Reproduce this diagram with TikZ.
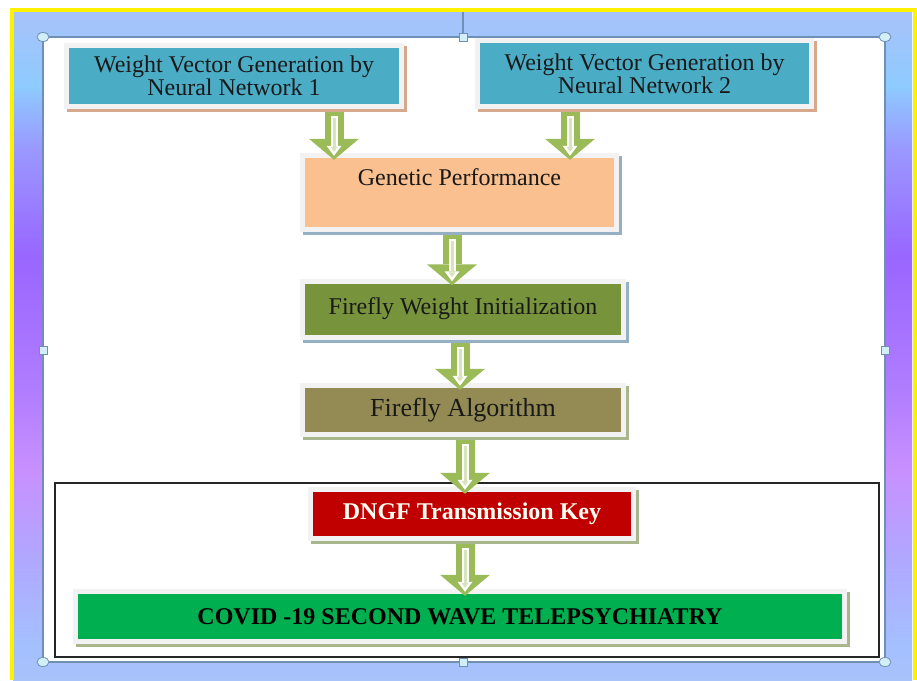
\documentclass[tikz,border=0pt]{standalone}
\usepackage{fontspec}
\setmainfont{Liberation Serif}
\usetikzlibrary{arrows.meta,shadows,calc}

\definecolor{nnblue}{HTML}{4BACC6}
\definecolor{genpeach}{HTML}{FAC090}
\definecolor{fwgreen}{HTML}{77933C}
\definecolor{faolive}{HTML}{948A54}
\definecolor{keyred}{HTML}{C00000}
\definecolor{covidgreen}{HTML}{00B050}
\definecolor{arrowgreen}{HTML}{9BBB59}
\definecolor{arrowlight}{HTML}{D7E4BD}
\definecolor{framegray}{HTML}{F2F2F2}
\definecolor{shtan}{HTML}{D6A88C}
\definecolor{shblue}{HTML}{95AFC3}
\definecolor{shgreen}{HTML}{A9B58C}
\definecolor{selblue}{HTML}{6F8FB5}
\definecolor{handlefill}{HTML}{D2EEF8}
\definecolor{bgA}{HTML}{A8C2FA}
\definecolor{bgB}{HTML}{8ECBFF}
\definecolor{bgC}{HTML}{9A98FF}
\definecolor{bgD}{HTML}{9966FF}
\definecolor{bgE}{HTML}{B07CFF}
\definecolor{bgF}{HTML}{C890FF}
\definecolor{bgG}{HTML}{B0A8FF}
\definecolor{bgH}{HTML}{A4C0FF}

\pgfdeclareverticalshading{pagebg}{100bp}{color(0bp)=(bgA); color(25bp)=(bgA);
  color(27.7bp)=(bgH); color(34bp)=(bgG); color(40.6bp)=(bgF); color(47bp)=(bgE);
  color(56.7bp)=(bgD); color(64.7bp)=(bgC); color(69.5bp)=(bgB); color(75bp)=(bgA);
  color(100bp)=(bgA)}

\begin{document}
\begin{tikzpicture}[x=1pt, y=-1pt,
    stage/.style 2 args={rectangle, inner sep=0pt, fill=framegray, text=black!90,
      path picture={\fill[#1] ($(path picture bounding box.south west)+(5pt,5pt)$)
        rectangle ($(path picture bounding box.north east)+(-5pt,-5pt)$);},
      drop shadow={shadow xshift=3pt, shadow yshift=-3pt, fill=#2, opacity=1}},
    txt/.style={font=\fontsize{24}{23}\selectfont, align=center},
    flow/.style={draw=arrowgreen, line width=19pt, shorten <=3pt, shorten >=-7pt,
      -{Triangle[width=50pt, length=21pt, line width=0pt]}},
    flowin/.style={draw=white, line width=7pt, shorten <=7pt, shorten >=-3pt,
      -{Triangle[width=15pt, length=10pt, line width=0pt]}},
    flowcore/.style={draw=arrowlight, line width=3pt, shorten <=9pt, shorten >=1pt,
      -{Triangle[width=7pt, length=5pt, line width=0pt]}},
    handle/.style={draw=selblue, fill=handlefill, line width=0.8pt}]

    \useasboundingbox (0,0) rectangle (917,680);

    % Page
    \shade[shading=pagebg] (13,12) rectangle (912,680);
    \draw[yellow, line width=4pt] (11.5,680) -- (11.5,10) -- (914.5,10) -- (914.5,680);
    \fill[white] (43,37) rectangle (885,662);
    \draw[selblue, line width=1.1pt] (43,37) rectangle (885,662);
    \draw[selblue, line width=1.1pt] (463,12) -- (463,37);
    \draw[black!85, line width=1.4pt] (55,483) rectangle (879,657);

    % Stages
    \node[stage={nnblue}{shtan}, txt, minimum width=340pt, minimum height=66pt] (nn1) at (234,76) {Weight Vector Generation by\\Neural Network 1};
    \node[stage={nnblue}{shtan}, txt, minimum width=339pt, minimum height=71pt] (nn2) at (644.5,73.5) {Weight Vector Generation by\\Neural Network 2};
    \node[stage={genpeach}{shblue}, txt, minimum width=319pt, minimum height=79pt, text height=15pt, text depth=30pt] (gen) at (459.5,192.5) {Genetic Performance};
    \node[stage={fwgreen}{shblue}, txt, minimum width=326pt, minimum height=61pt] (fwi) at (463,309) {Firefly Weight Initialization};
    \node[stage={faolive}{shgreen}, txt, font=\fontsize{26}{26}\selectfont, minimum width=326pt, minimum height=54pt] (ffa) at (463,410) {Firefly Algorithm};
    \node[stage={keyred}{shgreen}, txt, font=\fontsize{24}{24}\selectfont\bfseries, text=white!95!yellow, minimum width=328pt, minimum height=54pt] (dngf) at (472,514) {DNGF Transmission Key};
    \node[stage={covidgreen}{shgreen}, txt, font=\fontsize{24}{24}\selectfont\bfseries, text=black, minimum width=774pt, minimum height=55pt] (covid) at (460,616.5) {COVID -19 SECOND WAVE TELEPSYCHIATRY};

    % Arrows
    \foreach \a/\b/\x in {nn1/gen/334, nn2/gen/570, gen/fwi/452, fwi/ffa/460, ffa/dngf/465, dngf/covid/465} {
        \draw[flow] (\a.south -| \x,0) -- (\b.north -| \x,0);
        \draw[flowin] (\a.south -| \x,0) -- (\b.north -| \x,0);
        \draw[flowcore] (\a.south -| \x,0) -- (\b.north -| \x,0);
    }

    % Handles
    \foreach \p in {(43,37), (885,37), (43,662), (885,662)}
        \draw[handle] \p ellipse (6pt and 4.5pt);
    \foreach \p in {(463,37), (43,350), (885,350), (463,662)}
        \draw[handle] \p ++(-4,-4) rectangle ++(8,8);
\end{tikzpicture}
\end{document}
